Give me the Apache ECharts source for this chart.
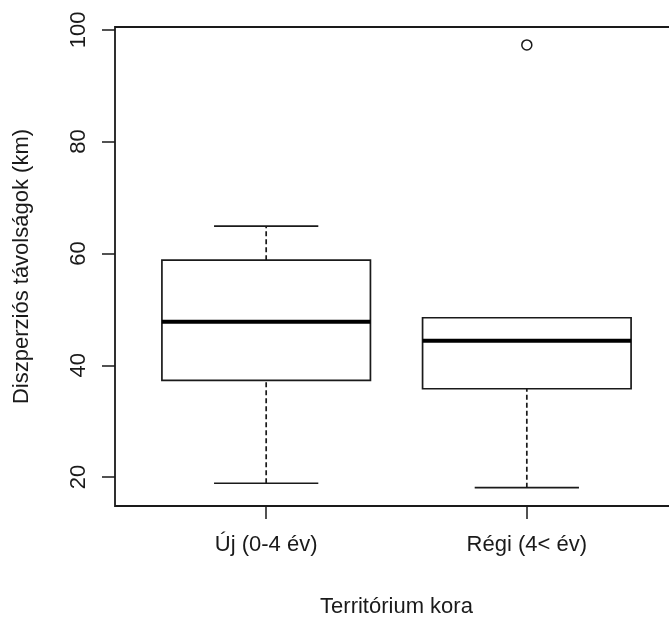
<!DOCTYPE html>
<html>
<head>
<meta charset="utf-8">
<script src="https://cdn.jsdelivr.net/npm/echarts@6/dist/echarts.min.js"></script>
<style>
html,body{margin:0;padding:0;background:#fff;}
#chart{width:669px;height:617px;}
</style>
</head>
<body>
<div id="chart"></div>
<script>
// Data
const categories = ['Új (0-4 év)', 'Régi (4< év)'];
const whiskerLow = [18.9, 18.1];
const q1 = [37.3, 35.8];
const medians = [47.8, 44.4];
const q3 = [58.8, 48.5];
const whiskerHigh = [64.9, 48.5];
const outliers = [[2, 97.3]];
const yTicks = [20, 40, 60, 80, 100];

const boxData = categories.map((c, i) => [i + 1, whiskerLow[i], q1[i], medians[i], q3[i], whiskerHigh[i]]);

const ink = '#1a1a1a';
const font = 'Liberation Sans, Arial, sans-serif';

const chart = echarts.init(document.getElementById('chart'));

function renderBox(params, api) {
  const x = api.value(0);
  const lo = api.value(1), a = api.value(2), m = api.value(3), b = api.value(4), hi = api.value(5);
  const hw = 0.4, cw = 0.2;
  const pTL = api.coord([x - hw, b]);
  const pBR = api.coord([x + hw, a]);
  const pML = api.coord([x - hw, m]);
  const pMR = api.coord([x + hw, m]);
  const pC = api.coord([x, lo]);
  const pQ1 = api.coord([x, a]);
  const pQ3 = api.coord([x, b]);
  const pH = api.coord([x, hi]);
  const capL1 = api.coord([x - cw, lo]), capR1 = api.coord([x + cw, lo]);
  const capL2 = api.coord([x - cw, hi]), capR2 = api.coord([x + cw, hi]);
  const lineStyle = {stroke: ink, lineWidth: 1.7, fill: null};
  return {
    type: 'group',
    children: [
      {type: 'line', shape: {x1: pC[0], y1: pC[1], x2: pQ1[0], y2: pQ1[1]}, style: {stroke: ink, lineWidth: 1.7, lineDash: [5, 3]}},
      {type: 'line', shape: {x1: pQ3[0], y1: pQ3[1], x2: pH[0], y2: pH[1]}, style: {stroke: ink, lineWidth: 1.7, lineDash: [5, 3]}},
      {type: 'line', shape: {x1: capL1[0], y1: capL1[1], x2: capR1[0], y2: capR1[1]}, style: lineStyle},
      {type: 'line', shape: {x1: capL2[0], y1: capL2[1], x2: capR2[0], y2: capR2[1]}, style: lineStyle},
      {type: 'rect', shape: {x: pTL[0], y: pTL[1], width: pBR[0] - pTL[0], height: pBR[1] - pTL[1]}, style: {stroke: ink, lineWidth: 1.7, fill: '#fff'}},
      {type: 'line', shape: {x1: pML[0], y1: pML[1], x2: pMR[0], y2: pMR[1]}, style: {stroke: '#000', lineWidth: 4}}
    ]
  };
}

chart.setOption({
  backgroundColor: '#fff',
  animation: false,
  grid: {left: 115, top: 27, right: -9, height: 479, outerBoundsMode: 'none', show: true, borderColor: ink, borderWidth: 1.8, backgroundColor: 'transparent'},
  xAxis: {
    type: 'value', min: 0.42, max: 2.58,
    name: 'Territórium kora', nameLocation: 'middle', nameGap: 90,
    nameTextStyle: {fontFamily: font, fontSize: 22, color: ink},
    axisLine: {show: false},
    splitLine: {show: false},
    axisTick: {show: true, length: 13, inside: false, customValues: [1, 2], lineStyle: {color: ink, width: 1.5}},
    axisLabel: {show: true, customValues: [1, 2], margin: 28, fontFamily: font, fontSize: 22, color: ink,
      formatter: v => categories[Math.round(v) - 1] || ''}
  },
  yAxis: {
    type: 'value', min: 14.83, max: 100.5,
    name: 'Diszperziós távolságok (km)', nameLocation: 'middle', nameGap: 82, nameRotate: 90,
    nameTextStyle: {fontFamily: font, fontSize: 22, color: ink},
    axisLine: {show: false},
    splitLine: {show: false},
    axisTick: {show: true, length: 13, inside: false, customValues: yTicks, lineStyle: {color: ink, width: 1.5}},
    axisLabel: {show: true, customValues: yTicks, rotate: 90, margin: 25, fontFamily: font, fontSize: 22, color: ink}
  },
  series: [
    {type: 'custom', renderItem: renderBox, data: boxData, encode: {x: 0, y: [1, 2, 3, 4, 5]}, clip: false},
    {type: 'scatter', data: outliers, symbol: 'circle', symbolSize: 10,
      itemStyle: {borderColor: ink, borderWidth: 1.5, color: '#fff', opacity: 1}}
  ]
});
</script>
</body>
</html>
